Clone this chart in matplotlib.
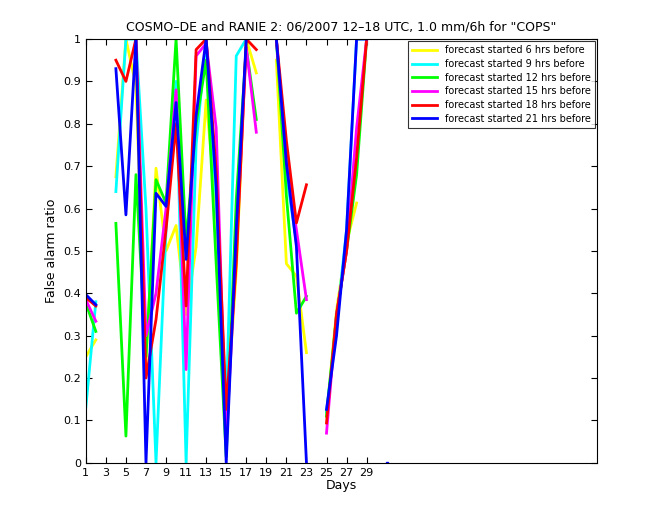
import numpy as np
import matplotlib
matplotlib.use("Agg")
import matplotlib.pyplot as plt

n = np.nan
days = list(range(1, 32))
f6  = [0.25, 0.29, n, 0.675, 1.0, 0.89, 0.235, 0.695, 0.50, 0.56, 0.35, 0.51, 0.856, 0.60, 0.10, 0.45, 1.0, 0.92, n, 0.95, 0.47, 0.44, 0.26, n, 0.11, 0.36, 0.52, 0.613, n, n, n]
f9  = [0.13, 0.38, n, 0.64, 1.0, 1.0, 0.60, 0.0, 0.55, 0.90, 0.0, 0.75, 1.0, 0.62, 0.13, 0.96, 1.0, n, n, 1.0, 0.68, 0.52, n, n, 0.12, 0.33, 0.55, 1.0, 1.0, n, n]
f12 = [0.377, 0.31, n, 0.565, 0.063, 0.68, 0.25, 0.668, 0.613, 1.0, 0.52, 0.80, 0.95, 0.47, 0.015, 0.62, 0.98, 0.81, n, 1.0, 0.63, 0.353, 0.393, n, 0.11, 0.35, 0.50, 0.68, 1.0, n, n]
f15 = [0.385, 0.334, n, 0.98, n, 1.0, 0.30, 0.40, 0.60, 0.88, 0.22, 0.96, 0.99, 0.79, 0.05, 0.50, 0.98, 0.78, n, 1.0, 0.71, 0.55, 0.385, n, 0.07, 0.35, 0.50, 0.79, 1.0, n, n]
f18 = [0.39, 0.37, n, 0.95, 0.90, 1.0, 0.20, 0.338, 0.55, 0.80, 0.37, 0.975, 1.0, 0.69, 0.126, 0.47, 1.0, 0.975, n, 1.0, 0.76, 0.566, 0.656, n, 0.094, 0.35, 0.50, 0.72, 1.0, n, n]
f21 = [0.397, 0.373, n, 0.93, 0.585, 1.0, 0.0, 0.636, 0.605, 0.85, 0.48, 0.82, 1.0, 0.65, 0.0, 0.55, 1.0, n, n, 1.0, 0.707, 0.51, 0.0, n, 0.126, 0.30, 0.55, 1.0, 1.0, n, 0.0]

series = [f6, f9, f12, f15, f18, f21]
labels = ["forecast started 6 hrs before", "forecast started 9 hrs before",
          "forecast started 12 hrs before", "forecast started 15 hrs before",
          "forecast started 18 hrs before", "forecast started 21 hrs before"]
colors = ["#ffff00", "#00ffff", "#00ff00", "#ff00ff", "#ff0000", "#0000ff"]

fig = plt.figure(figsize=(6.6, 5.2), dpi=100)
ax = fig.add_axes([0.130, 0.110, 0.775, 0.815])
for s, l, c in zip(series, labels, colors):
    ax.plot(days, s, color=c, lw=2, label=l)
ax.plot([31], [0.0], color="#0000ff", marker="s", ms=1.5, ls="none")
ax.set_xlim(1, 52)
ax.set_ylim(0, 1)
ax.set_xticks(range(1, 30, 2))
ax.set_yticks(np.arange(0, 1.01, 0.1))
ax.set_yticklabels(["0", "0.1", "0.2", "0.3", "0.4", "0.5", "0.6", "0.7", "0.8", "0.9", "1"])
ax.tick_params(direction="in", labelsize=8, length=4, top=True, right=True)
ax.set_xlabel("Days", fontsize=9, labelpad=1)
ax.set_ylabel("False alarm ratio", fontsize=9)
ax.set_title('COSMO\u2013DE and RANIE 2: 06/2007 12\u201318 UTC, 1.0 mm/6h for "COPS"', fontsize=9)
leg = ax.legend(loc="upper right", fontsize=7, frameon=True, fancybox=False,
                edgecolor="black", handlelength=2.6, borderaxespad=0.25, labelspacing=0.38)
leg.get_frame().set_linewidth(0.8)
fig.savefig("out.png", dpi=100)
